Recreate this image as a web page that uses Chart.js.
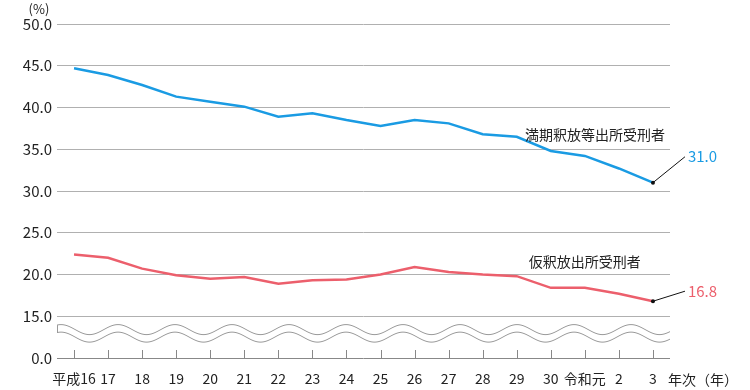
<!DOCTYPE html>
<html><head><meta charset="utf-8">
<script src="https://cdn.jsdelivr.net/npm/chart.js@4/dist/chart.umd.min.js"></script>
<style>html,body{margin:0;padding:0;background:#fff}#wrap{width:750px;height:390px;position:relative}</style>
</head><body><div id="wrap"><canvas id="c" width="750" height="390"></canvas></div>
<script>
const categories = ['平成16','17','18','19','20','21','22','23','24','25','26','27','28','29','30','令和元','2','3'];
const manki = [44.7,43.9,42.7,41.3,40.7,40.1,38.9,39.3,38.5,37.8,38.5,38.1,36.8,36.5,34.8,34.2,32.7,31.0];
const karishaku = [22.4,22.0,20.7,19.9,19.5,19.7,18.9,19.3,19.4,20.0,20.9,20.3,20.0,19.8,18.4,18.4,17.7,16.8];
const yTickValues = [10,15,20,25,30,35,40,45,50];
const yTickLabels = ['0.0','15.0','20.0','25.0','30.0','35.0','40.0','45.0','50.0'];
const seriesNames = ['満期釈放等出所受刑者','仮釈放出所受刑者'];
const BLUE = '#1a9be3', RED = '#ec5f6c';
const FONT = '"Noto Sans CJK JP", "Noto Sans", sans-serif';

const deco = {
  id: 'deco',
  afterDraw(chart) {
    const ctx = chart.ctx, x = chart.scales.x, y = chart.scales.y, ca = chart.chartArea;
    ctx.save();
    // x tick marks
    ctx.strokeStyle = '#888'; ctx.lineWidth = 1;
    for (let i = 0; i < categories.length; i++) {
      const px = Math.round(x.getPixelForValue(i)) + 0.5;
      ctx.beginPath(); ctx.moveTo(px, ca.bottom - 8); ctx.lineTo(px, ca.bottom); ctx.stroke();
    }
    // wavy break
    const c1 = y.getPixelForValue(13.4), c2 = y.getPixelForValue(12.5);
    const A = 5, P = 57, ph = 4;
    const wy = (c, px) => c - A * Math.cos(2 * Math.PI * (px - ca.left - ph) / P);
    [c1, c2].forEach(c => {
      ctx.beginPath();
      for (let px = ca.left; px <= ca.right; px++) {
        const py = wy(c, px);
        if (px === ca.left) ctx.moveTo(px, py); else ctx.lineTo(px, py);
      }
      ctx.strokeStyle = '#999'; ctx.lineWidth = 1; ctx.stroke();
    });
    ctx.beginPath(); ctx.moveTo(ca.left + 0.5, wy(c1, ca.left)); ctx.lineTo(ca.left + 0.5, wy(c2, ca.left)); ctx.stroke();
    // series names
    ctx.fillStyle = '#222'; ctx.font = '14px ' + FONT; ctx.textBaseline = 'middle';
    ctx.textAlign = 'right';
    ctx.fillText(seriesNames[0], x.getPixelForValue(17) + 12, y.getPixelForValue(36.8));
    ctx.textAlign = 'center';
    ctx.fillText(seriesNames[1], x.getPixelForValue(15), y.getPixelForValue(21.5));
    // end leaders
    const last = categories.length - 1;
    const ends = [[manki[last], 34.1, BLUE], [karishaku[last], 18.0, RED]];
    ends.forEach(([v, lv, col]) => {
      const px = x.getPixelForValue(last), py = y.getPixelForValue(v);
      const lx = px + 32, ly = y.getPixelForValue(lv);
      ctx.strokeStyle = '#111'; ctx.lineWidth = 1;
      ctx.beginPath(); ctx.moveTo(px, py); ctx.lineTo(lx, ly); ctx.stroke();
      ctx.fillStyle = '#111'; ctx.beginPath(); ctx.arc(px, py, 2, 0, Math.PI * 2); ctx.fill();
      ctx.fillStyle = col; ctx.font = '15px ' + FONT; ctx.textAlign = 'left';
      ctx.fillText(v.toFixed(1), lx + 3, ly);
    });
    // axis titles
    ctx.fillStyle = '#222'; ctx.font = '13px ' + FONT; ctx.textAlign = 'center';
    ctx.fillText('(%)', 39, 9);
    ctx.font = '14px ' + FONT; ctx.textAlign = 'left';
    ctx.fillText('年次（年）', ca.right - 2, 380);
    ctx.restore();
  }
};

new Chart(document.getElementById('c'), {
  type: 'line',
  data: {
    labels: categories,
    datasets: [
      { label: seriesNames[0], data: manki, borderColor: BLUE, borderWidth: 2.5, pointRadius: 0, tension: 0, fill: false },
      { label: seriesNames[1], data: karishaku, borderColor: RED, borderWidth: 2.5, pointRadius: 0, tension: 0, fill: false }
    ]
  },
  options: {
    responsive: false, animation: false,
    layout: { padding: { left: 0, right: 80, top: 24, bottom: 0 } },
    plugins: { legend: { display: false }, tooltip: { enabled: false } },
    scales: {
      x: {
        offset: true,
        grid: { display: false, drawTicks: false },
        border: { display: false },
        ticks: { color: '#222', font: { family: FONT, size: 14 }, padding: 12, maxRotation: 0, autoSkip: false },
        afterFit(s) { s.height = 32; }
      },
      y: {
        min: 10, max: 50,
        afterBuildTicks(s) { s.ticks = yTickValues.map(v => ({ value: v })); },
        grid: { color: ctx => ctx.tick && ctx.tick.value === 10 ? '#888' : '#b0b0b0', lineWidth: 1, drawTicks: false },
        border: { display: false },
        ticks: { color: '#222', font: { family: FONT, size: 15 }, padding: 5,
          callback: (v, i) => yTickLabels[yTickValues.indexOf(v)] },
        afterFit(s) { s.width = 57; }
      }
    }
  },
  plugins: [deco]
});
</script></body></html>
